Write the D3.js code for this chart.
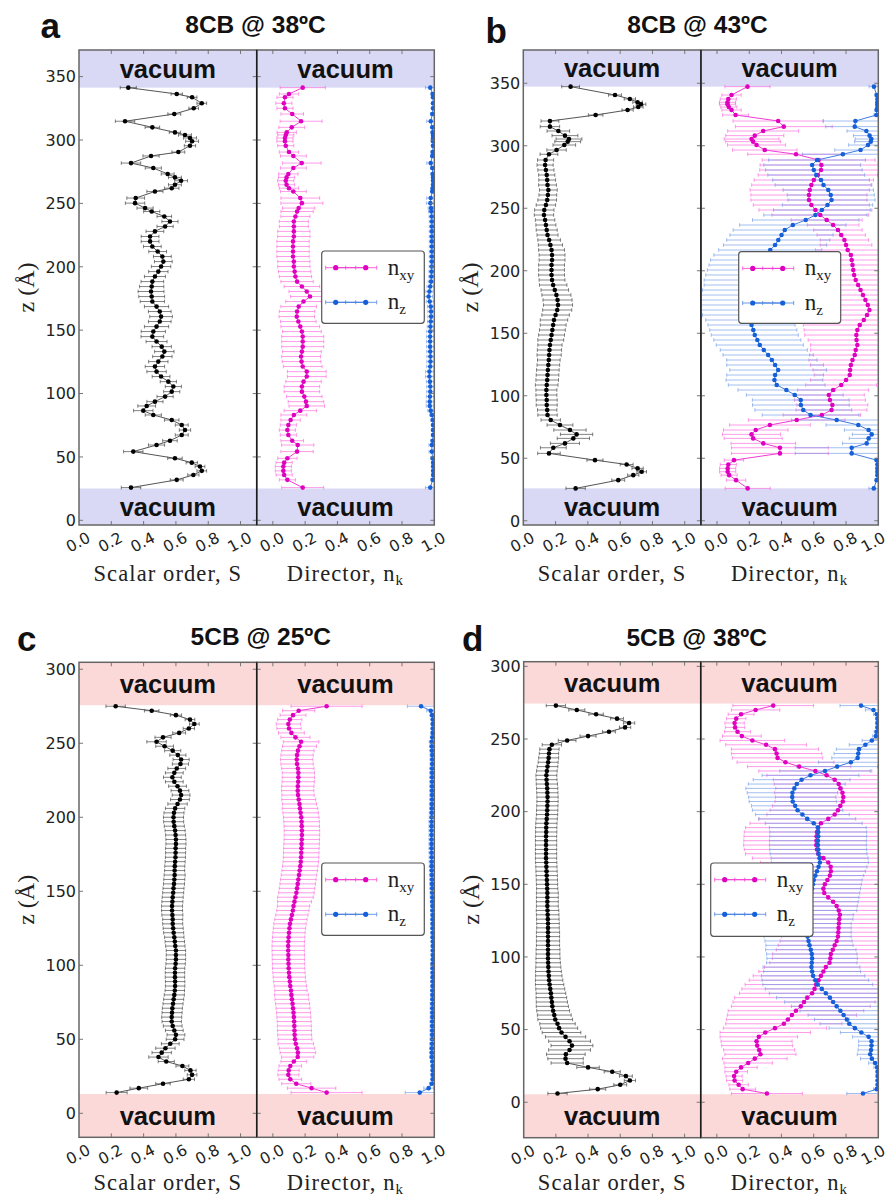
<!DOCTYPE html>
<html>
<head>
<meta charset="utf-8">
<script src="https://cdn.jsdelivr.net/npm/d3@7/dist/d3.min.js"></script>
<style>
  html, body { margin: 0; padding: 0; background: #fff; }
  svg { display: block; }
</style>
</head>
<body>
<svg id="fig" width="891" height="1198"></svg>
<script>
// ---------------------------------------------------------------------------
// Order-parameter profiles across liquid-crystal films (z in Å).
// Each panel: scalar order S, director components n_xy and n_z, with errors.
// ---------------------------------------------------------------------------

// ----- 8CB @ 38ºC -----
const zA = [
  341.3, 336.3, 333.7, 329, 325, 320.5, 314.8, 310, 306, 304,
  301.6, 299, 295.5, 290.5, 287.4, 281.8, 277.9, 273.2, 270.5, 267.9,
  264.7, 262, 259.4, 254.2, 250.2, 246.3, 243.6, 239.7, 235.7, 231.8,
  227.9, 223.9, 220, 216, 212, 208.1, 204.1, 200.2, 196.2, 192.3,
  188.3, 184.4, 180.5, 176.5, 172.6, 168.6, 164.7, 160.7, 156.8, 152.8,
  148.9, 144.9, 141, 137, 133.1, 129.2, 125.2, 121.3, 117.3, 113.4,
  109.4, 105.5, 101.5, 97.6, 93.6, 90.2, 86.5, 83.1, 79.1, 75.2,
  71.2, 67.3, 62.8, 59.4, 54.2, 48.9, 45.5, 42.4, 39, 35.8,
  31.9, 25.8
];
const sA = [
  0.305, 0.605, 0.70, 0.76, 0.71, 0.59, 0.285, 0.454, 0.594, 0.656,
  0.687, 0.70, 0.687, 0.615, 0.446, 0.322, 0.46, 0.549, 0.594, 0.632,
  0.594, 0.574, 0.47, 0.351, 0.347, 0.409, 0.45, 0.528, 0.563, 0.533,
  0.47, 0.44, 0.44, 0.454, 0.487, 0.516, 0.522, 0.508, 0.491, 0.47,
  0.454, 0.45, 0.446, 0.45, 0.454, 0.48, 0.50, 0.508, 0.50, 0.48,
  0.46, 0.454, 0.48, 0.512, 0.528, 0.516, 0.491, 0.47, 0.48, 0.508,
  0.553, 0.584, 0.574, 0.533, 0.47, 0.419, 0.398, 0.46, 0.574, 0.636,
  0.656, 0.636, 0.563, 0.48, 0.336, 0.594, 0.698, 0.749, 0.76, 0.708,
  0.605, 0.322
];
const sErrA = [
  0.05, 0.035, 0.03, 0.03, 0.03, 0.04, 0.06, 0.045, 0.035, 0.04,
  0.04, 0.04, 0.035, 0.04, 0.05, 0.06, 0.05, 0.04, 0.04, 0.04,
  0.04, 0.045, 0.05, 0.055, 0.06, 0.05, 0.05, 0.045, 0.05, 0.05,
  0.055, 0.055, 0.055, 0.055, 0.055, 0.055, 0.055, 0.06, 0.06, 0.065,
  0.07, 0.075, 0.08, 0.08, 0.075, 0.075, 0.07, 0.07, 0.07, 0.075,
  0.075, 0.07, 0.065, 0.06, 0.06, 0.06, 0.06, 0.06, 0.06, 0.055,
  0.05, 0.05, 0.05, 0.05, 0.05, 0.055, 0.06, 0.05, 0.045, 0.04,
  0.035, 0.04, 0.045, 0.05, 0.06, 0.045, 0.035, 0.03, 0.03, 0.035,
  0.04, 0.06
];
const nxyA = [
  0.185, 0.10, 0.075, 0.068, 0.075, 0.12, 0.175, 0.117, 0.086, 0.08,
  0.075, 0.075, 0.08, 0.10, 0.127, 0.179, 0.127, 0.096, 0.085, 0.08,
  0.085, 0.10, 0.127, 0.17, 0.18, 0.16, 0.15, 0.14, 0.13, 0.13,
  0.13, 0.13, 0.125, 0.125, 0.125, 0.125, 0.13, 0.13, 0.135, 0.14,
  0.15, 0.18, 0.21, 0.23, 0.19, 0.16, 0.15, 0.148, 0.158, 0.17,
  0.18, 0.185, 0.185, 0.185, 0.18, 0.175, 0.178, 0.185, 0.21, 0.21,
  0.19, 0.18, 0.18, 0.195, 0.205, 0.21, 0.17, 0.13, 0.11, 0.096,
  0.09, 0.096, 0.12, 0.154, 0.15, 0.09, 0.07, 0.065, 0.065, 0.07,
  0.09, 0.185
];
const nxyErrA = [
  0.14, 0.06, 0.05, 0.05, 0.05, 0.07, 0.13, 0.08, 0.06, 0.05,
  0.05, 0.05, 0.05, 0.06, 0.08, 0.12, 0.08, 0.06, 0.05, 0.05,
  0.05, 0.06, 0.08, 0.12, 0.13, 0.1, 0.1, 0.09, 0.09, 0.09,
  0.1, 0.1, 0.1, 0.1, 0.1, 0.1, 0.1, 0.1, 0.1, 0.1,
  0.1, 0.11, 0.11, 0.12, 0.11, 0.11, 0.11, 0.11, 0.11, 0.12,
  0.12, 0.13, 0.13, 0.13, 0.12, 0.12, 0.12, 0.12, 0.12, 0.12,
  0.11, 0.11, 0.11, 0.11, 0.11, 0.11, 0.1, 0.08, 0.06, 0.05,
  0.05, 0.05, 0.07, 0.1, 0.1, 0.06, 0.05, 0.05, 0.05, 0.05,
  0.05, 0.13
];
const nzA = [
  0.975, 0.99, 0.992, 0.992, 0.992, 0.988, 0.978, 0.988, 0.99, 0.992,
  0.992, 0.992, 0.992, 0.99, 0.988, 0.978, 0.988, 0.99, 0.992, 0.992,
  0.992, 0.99, 0.988, 0.978, 0.976, 0.98, 0.982, 0.984, 0.985, 0.985,
  0.985, 0.985, 0.985, 0.985, 0.985, 0.985, 0.985, 0.984, 0.983, 0.982,
  0.98, 0.975, 0.97, 0.965, 0.972, 0.978, 0.98, 0.98, 0.978, 0.976,
  0.975, 0.974, 0.974, 0.974, 0.975, 0.976, 0.976, 0.975, 0.97, 0.97,
  0.973, 0.975, 0.975, 0.973, 0.972, 0.972, 0.978, 0.985, 0.99, 0.992,
  0.992, 0.992, 0.99, 0.985, 0.985, 0.99, 0.993, 0.993, 0.993, 0.993,
  0.99, 0.975
];
const nzErrA = [
  0.03, 0.01, 0.008, 0.008, 0.008, 0.012, 0.025, 0.012, 0.01, 0.008,
  0.008, 0.008, 0.008, 0.01, 0.012, 0.025, 0.012, 0.01, 0.008, 0.008,
  0.008, 0.01, 0.012, 0.025, 0.025, 0.018, 0.018, 0.016, 0.016, 0.016,
  0.016, 0.016, 0.016, 0.016, 0.016, 0.016, 0.016, 0.016, 0.016, 0.016,
  0.018, 0.02, 0.022, 0.024, 0.022, 0.02, 0.02, 0.02, 0.02, 0.02,
  0.022, 0.022, 0.022, 0.022, 0.022, 0.022, 0.022, 0.022, 0.024, 0.024,
  0.022, 0.022, 0.022, 0.022, 0.022, 0.022, 0.018, 0.012, 0.01, 0.008,
  0.008, 0.008, 0.012, 0.018, 0.018, 0.01, 0.008, 0.008, 0.008, 0.008,
  0.01, 0.03
];

// ----- 8CB @ 43ºC -----
const zB = [
  347.3, 340.6, 337.4, 334.8, 333.2, 331, 328.6, 324.6, 319.8, 315.3,
  311.8, 308.1, 305.4, 303.3, 300.6, 296.6, 293.2, 288.6, 284.6, 280.6,
  276.6, 272.6, 268.6, 264.6, 260.6, 256.6, 252.6, 248.6, 244.6, 240.6,
  236.6, 232.6, 228.6, 224.6, 220.6, 216.6, 212.6, 208.6, 204.6, 200.6,
  196.6, 192.6, 188.6, 184.6, 180.6, 176.6, 172.6, 168.6, 164.6, 160.6,
  156.6, 152.6, 148.6, 144.6, 140.6, 136.6, 132.6, 128.6, 124.6, 120.6,
  116.6, 112.6, 108.6, 104.6, 100.6, 96.6, 92.6, 88.6, 84.6, 80.6,
  76.6, 72.6, 69.1, 65.9, 61.9, 58.4, 53.9, 48.5, 45, 41.9,
  39.2, 36.5, 32.5, 25.9
];
const sB = [
  0.293, 0.568, 0.66, 0.708, 0.729, 0.712, 0.646, 0.448, 0.165, 0.165,
  0.217, 0.258, 0.283, 0.275, 0.254, 0.206, 0.159, 0.138, 0.135, 0.14,
  0.145, 0.148, 0.15, 0.155, 0.152, 0.148, 0.14, 0.13, 0.128, 0.135,
  0.14, 0.145, 0.15, 0.16, 0.168, 0.175, 0.178, 0.178, 0.175, 0.175,
  0.175, 0.178, 0.185, 0.195, 0.205, 0.212, 0.215, 0.21, 0.2, 0.19,
  0.185, 0.18, 0.175, 0.17, 0.165, 0.162, 0.16, 0.158, 0.155, 0.152,
  0.15, 0.148, 0.145, 0.143, 0.143, 0.145, 0.145, 0.148, 0.15, 0.17,
  0.227, 0.289, 0.33, 0.31, 0.258, 0.186, 0.159, 0.444, 0.64, 0.708,
  0.733, 0.681, 0.588, 0.324
];
const sErrB = [
  0.055, 0.04, 0.035, 0.03, 0.03, 0.03, 0.035, 0.045, 0.055, 0.06,
  0.07, 0.08, 0.08, 0.08, 0.07, 0.06, 0.055, 0.05, 0.05, 0.05,
  0.05, 0.052, 0.055, 0.055, 0.055, 0.058, 0.06, 0.06, 0.06, 0.06,
  0.062, 0.065, 0.065, 0.07, 0.075, 0.08, 0.08, 0.08, 0.08, 0.08,
  0.08, 0.08, 0.085, 0.085, 0.09, 0.09, 0.09, 0.09, 0.085, 0.085,
  0.08, 0.08, 0.08, 0.08, 0.075, 0.075, 0.075, 0.07, 0.07, 0.07,
  0.07, 0.07, 0.07, 0.065, 0.065, 0.065, 0.065, 0.06, 0.06, 0.06,
  0.08, 0.1, 0.1, 0.1, 0.09, 0.08, 0.07, 0.05, 0.04, 0.035,
  0.03, 0.035, 0.04, 0.06
];
const nxyB = [
  0.189, 0.09, 0.07, 0.065, 0.065, 0.073, 0.09, 0.115, 0.379, 0.414,
  0.286, 0.234, 0.214, 0.224, 0.245, 0.296, 0.49, 0.63, 0.647, 0.645,
  0.625, 0.60, 0.585, 0.575, 0.57, 0.57, 0.585, 0.61, 0.64, 0.68,
  0.72, 0.75, 0.77, 0.79, 0.80, 0.81, 0.83, 0.835, 0.84, 0.845,
  0.85, 0.86, 0.875, 0.89, 0.905, 0.92, 0.935, 0.945, 0.93, 0.91,
  0.885, 0.87, 0.864, 0.865, 0.87, 0.86, 0.854, 0.84, 0.83, 0.825,
  0.823, 0.80, 0.77, 0.72, 0.693, 0.70, 0.715, 0.71, 0.65, 0.494,
  0.328, 0.24, 0.214, 0.224, 0.287, 0.39, 0.39, 0.105, 0.07, 0.066,
  0.066, 0.075, 0.118, 0.19
];
const nxyErrB = [
  0.14, 0.06, 0.05, 0.05, 0.05, 0.05, 0.06, 0.08, 0.28, 0.3,
  0.22, 0.18, 0.17, 0.17, 0.18, 0.2, 0.3, 0.35, 0.38, 0.38,
  0.37, 0.37, 0.37, 0.37, 0.36, 0.36, 0.36, 0.35, 0.3, 0.22,
  0.16, 0.15, 0.15, 0.15, 0.16, 0.2, 0.28, 0.33, 0.36, 0.38,
  0.38, 0.38, 0.38, 0.38, 0.38, 0.38, 0.38, 0.38, 0.36, 0.35,
  0.35, 0.33, 0.32, 0.3, 0.29, 0.28, 0.28, 0.27, 0.25, 0.23,
  0.22, 0.22, 0.22, 0.22, 0.22, 0.22, 0.22, 0.22, 0.24, 0.3,
  0.25, 0.2, 0.18, 0.18, 0.2, 0.3, 0.3, 0.06, 0.05, 0.05,
  0.05, 0.05, 0.06, 0.14
];
const nzB = [
  0.973, 0.99, 0.995, 0.995, 0.995, 0.995, 0.99, 0.988, 0.858, 0.854,
  0.926, 0.946, 0.957, 0.953, 0.936, 0.89, 0.78, 0.62, 0.59, 0.60,
  0.615, 0.645, 0.66, 0.69, 0.705, 0.71, 0.685, 0.65, 0.61, 0.55,
  0.47, 0.42, 0.40, 0.38, 0.36, 0.33, 0.30, 0.28, 0.27, 0.26,
  0.25, 0.24, 0.22, 0.21, 0.19, 0.18, 0.17, 0.17, 0.19, 0.20,
  0.214, 0.225, 0.234, 0.25, 0.265, 0.29, 0.317, 0.34, 0.36, 0.379,
  0.36, 0.356, 0.37, 0.43, 0.482, 0.519, 0.52, 0.535, 0.58, 0.742,
  0.876, 0.94, 0.959, 0.94, 0.928, 0.835, 0.835, 0.99, 0.995, 0.995,
  0.995, 0.995, 0.99, 0.972
];
const nzErrB = [
  0.03, 0.01, 0.01, 0.01, 0.01, 0.01, 0.01, 0.015, 0.2, 0.18,
  0.12, 0.1, 0.1, 0.1, 0.12, 0.16, 0.25, 0.3, 0.3, 0.3,
  0.3, 0.3, 0.3, 0.28, 0.27, 0.27, 0.28, 0.3, 0.32, 0.33,
  0.33, 0.32, 0.32, 0.32, 0.32, 0.32, 0.32, 0.32, 0.32, 0.32,
  0.32, 0.32, 0.3, 0.3, 0.3, 0.3, 0.3, 0.3, 0.28, 0.27,
  0.27, 0.27, 0.27, 0.27, 0.27, 0.27, 0.28, 0.28, 0.3, 0.3,
  0.3, 0.3, 0.3, 0.3, 0.3, 0.3, 0.3, 0.3, 0.3, 0.28,
  0.2, 0.15, 0.12, 0.12, 0.15, 0.35, 0.35, 0.01, 0.01, 0.01,
  0.01, 0.01, 0.01, 0.03
];

// ----- 5CB @ 25ºC -----
const zC = [
  275, 272, 269, 266, 263, 260, 257, 254, 251, 248,
  245, 242, 239, 236, 233, 230, 227, 224, 221, 218,
  215, 212, 209, 206, 203, 200, 197, 194, 191, 188,
  185, 182, 179, 176, 173, 170, 167, 164, 161, 158,
  155, 152, 149, 146, 143, 140, 137, 134, 131, 128,
  125, 122, 119, 116, 113, 110, 107, 104, 101, 98,
  95, 92, 89, 86, 83, 80, 77, 74, 71, 68,
  65, 62, 59, 56, 53, 50, 47, 44, 41, 38,
  35, 32, 29, 26, 23, 20, 17, 14
];
const sC = [
  0.227, 0.45, 0.60, 0.687, 0.714, 0.68, 0.62, 0.52, 0.48, 0.53,
  0.58, 0.612, 0.632, 0.628, 0.605, 0.59, 0.578, 0.59, 0.61, 0.625,
  0.632, 0.625, 0.61, 0.595, 0.588, 0.585, 0.586, 0.59, 0.595, 0.598,
  0.6, 0.6, 0.598, 0.598, 0.597, 0.595, 0.593, 0.592, 0.592, 0.59,
  0.588, 0.585, 0.583, 0.58, 0.578, 0.576, 0.576, 0.578, 0.58, 0.58,
  0.583, 0.586, 0.59, 0.593, 0.596, 0.6, 0.6, 0.6, 0.598, 0.595,
  0.594, 0.594, 0.595, 0.595, 0.593, 0.59, 0.586, 0.582, 0.578, 0.576,
  0.574, 0.574, 0.58, 0.59, 0.6, 0.595, 0.565, 0.535, 0.512, 0.492,
  0.54, 0.64, 0.69, 0.70, 0.68, 0.52, 0.37, 0.233
];
const sErrC = [
  0.06, 0.045, 0.035, 0.03, 0.03, 0.035, 0.04, 0.05, 0.06, 0.055,
  0.05, 0.05, 0.05, 0.05, 0.055, 0.055, 0.055, 0.055, 0.055, 0.055,
  0.055, 0.058, 0.06, 0.06, 0.062, 0.062, 0.062, 0.062, 0.062, 0.062,
  0.062, 0.062, 0.062, 0.062, 0.062, 0.062, 0.062, 0.062, 0.065, 0.065,
  0.065, 0.065, 0.065, 0.065, 0.065, 0.065, 0.065, 0.065, 0.062, 0.062,
  0.062, 0.062, 0.06, 0.06, 0.06, 0.06, 0.06, 0.06, 0.06, 0.06,
  0.06, 0.06, 0.06, 0.06, 0.06, 0.062, 0.062, 0.062, 0.062, 0.062,
  0.062, 0.06, 0.058, 0.055, 0.055, 0.055, 0.055, 0.06, 0.06, 0.06,
  0.05, 0.04, 0.035, 0.03, 0.035, 0.045, 0.055, 0.065
];
const nxyC = [
  0.333, 0.16, 0.125, 0.105, 0.096, 0.1, 0.115, 0.14, 0.175, 0.165,
  0.155, 0.15, 0.148, 0.15, 0.155, 0.158, 0.158, 0.157, 0.155, 0.154,
  0.156, 0.16, 0.165, 0.168, 0.172, 0.176, 0.178, 0.179, 0.18, 0.18,
  0.179, 0.178, 0.177, 0.176, 0.175, 0.173, 0.17, 0.166, 0.162, 0.158,
  0.154, 0.15, 0.146, 0.14, 0.134, 0.128, 0.124, 0.118, 0.112, 0.106,
  0.103, 0.1, 0.098, 0.096, 0.095, 0.095, 0.096, 0.096, 0.097, 0.098,
  0.1, 0.102, 0.105, 0.108, 0.112, 0.115, 0.118, 0.122, 0.125, 0.128,
  0.13, 0.132, 0.133, 0.134, 0.135, 0.137, 0.142, 0.15, 0.155, 0.154,
  0.13, 0.108, 0.098, 0.096, 0.108, 0.145, 0.24, 0.333
];
const nxyErrC = [
  0.22, 0.1, 0.08, 0.075, 0.075, 0.075, 0.08, 0.09, 0.11, 0.105,
  0.1, 0.1, 0.1, 0.1, 0.1, 0.1, 0.1, 0.1, 0.1, 0.1,
  0.1, 0.105, 0.105, 0.11, 0.11, 0.11, 0.11, 0.11, 0.11, 0.11,
  0.11, 0.11, 0.11, 0.11, 0.11, 0.11, 0.11, 0.11, 0.11, 0.11,
  0.11, 0.11, 0.11, 0.11, 0.105, 0.1, 0.1, 0.1, 0.1, 0.1,
  0.1, 0.1, 0.1, 0.1, 0.1, 0.1, 0.1, 0.1, 0.1, 0.1,
  0.1, 0.1, 0.1, 0.1, 0.1, 0.105, 0.105, 0.105, 0.105, 0.105,
  0.105, 0.105, 0.105, 0.105, 0.105, 0.105, 0.11, 0.11, 0.11, 0.1,
  0.08, 0.07, 0.065, 0.065, 0.07, 0.09, 0.15, 0.22
];
const nzC = [
  0.918, 0.978, 0.986, 0.99, 0.99, 0.99, 0.99, 0.988, 0.984, 0.985,
  0.986, 0.987, 0.987, 0.987, 0.986, 0.986, 0.986, 0.986, 0.986, 0.986,
  0.986, 0.986, 0.985, 0.985, 0.984, 0.984, 0.983, 0.983, 0.983, 0.983,
  0.983, 0.983, 0.983, 0.983, 0.984, 0.984, 0.984, 0.985, 0.985, 0.986,
  0.986, 0.987, 0.987, 0.988, 0.988, 0.989, 0.989, 0.99, 0.99, 0.99,
  0.99, 0.99, 0.99, 0.991, 0.991, 0.991, 0.991, 0.991, 0.99, 0.99,
  0.99, 0.99, 0.99, 0.99, 0.989, 0.989, 0.989, 0.988, 0.988, 0.988,
  0.988, 0.987, 0.987, 0.987, 0.987, 0.987, 0.986, 0.985, 0.985, 0.985,
  0.988, 0.99, 0.99, 0.99, 0.99, 0.985, 0.965, 0.91
];
const nzErrC = [
  0.085, 0.025, 0.012, 0.008, 0.008, 0.008, 0.01, 0.012, 0.015, 0.015,
  0.014, 0.013, 0.013, 0.013, 0.014, 0.014, 0.014, 0.014, 0.014, 0.014,
  0.014, 0.014, 0.015, 0.015, 0.015, 0.015, 0.016, 0.016, 0.016, 0.016,
  0.016, 0.016, 0.016, 0.016, 0.016, 0.016, 0.015, 0.015, 0.015, 0.014,
  0.014, 0.014, 0.013, 0.013, 0.013, 0.012, 0.012, 0.012, 0.012, 0.012,
  0.012, 0.012, 0.011, 0.011, 0.011, 0.011, 0.011, 0.011, 0.012, 0.012,
  0.012, 0.012, 0.012, 0.012, 0.012, 0.013, 0.013, 0.013, 0.013, 0.013,
  0.013, 0.013, 0.013, 0.013, 0.013, 0.013, 0.014, 0.014, 0.014, 0.014,
  0.012, 0.01, 0.01, 0.01, 0.01, 0.015, 0.03, 0.09
];

// ----- 5CB @ 38ºC -----
const zD = [
  273, 270, 267, 264, 261, 258, 255, 252, 249, 246,
  243, 240, 237, 234, 231, 228, 225, 222, 219, 216,
  213, 210, 207, 204, 201, 198, 195, 192, 189, 186,
  183, 180, 177, 174, 171, 168, 165, 162, 159, 156,
  153, 150, 147, 144, 141, 138, 135, 132, 129, 126,
  123, 120, 117, 114, 111, 108, 105, 102, 99, 96,
  93, 90, 87, 84, 81, 78, 75, 72, 69, 66,
  63, 60, 57, 54, 51, 48, 45, 42, 39, 36,
  33, 30, 27, 24, 21, 18, 15, 12, 9, 6
];
const sD = [
  0.2, 0.33, 0.45, 0.58, 0.655, 0.63, 0.53, 0.40, 0.27, 0.175,
  0.16, 0.157, 0.155, 0.152, 0.148, 0.144, 0.141, 0.142, 0.144, 0.146,
  0.147, 0.148, 0.148, 0.147, 0.146, 0.145, 0.143, 0.141, 0.14, 0.14,
  0.139, 0.139, 0.139, 0.139, 0.139, 0.139, 0.14, 0.141, 0.142, 0.143,
  0.144, 0.145, 0.146, 0.147, 0.147, 0.147, 0.147, 0.148, 0.149, 0.15,
  0.151, 0.151, 0.151, 0.151, 0.151, 0.151, 0.151, 0.151, 0.151, 0.152,
  0.153, 0.154, 0.156, 0.158, 0.161, 0.165, 0.169, 0.172, 0.175, 0.178,
  0.183, 0.19, 0.196, 0.21, 0.22, 0.235, 0.26, 0.285, 0.3, 0.285,
  0.262, 0.26, 0.27, 0.40, 0.55, 0.635, 0.66, 0.6, 0.46, 0.21
];
const sErrD = [
  0.06, 0.05, 0.045, 0.04, 0.035, 0.035, 0.04, 0.05, 0.055, 0.06,
  0.06, 0.06, 0.062, 0.062, 0.064, 0.064, 0.065, 0.065, 0.066, 0.066,
  0.066, 0.066, 0.066, 0.066, 0.066, 0.066, 0.066, 0.066, 0.066, 0.066,
  0.066, 0.066, 0.066, 0.066, 0.066, 0.066, 0.066, 0.066, 0.066, 0.066,
  0.066, 0.066, 0.066, 0.068, 0.068, 0.068, 0.068, 0.07, 0.07, 0.07,
  0.07, 0.07, 0.072, 0.072, 0.072, 0.072, 0.074, 0.074, 0.075, 0.076,
  0.078, 0.08, 0.082, 0.085, 0.088, 0.09, 0.092, 0.095, 0.097, 0.1,
  0.102, 0.105, 0.108, 0.11, 0.115, 0.12, 0.125, 0.13, 0.13, 0.13,
  0.12, 0.11, 0.1, 0.07, 0.05, 0.04, 0.035, 0.04, 0.05, 0.06
];
const nxyD = [
  0.349, 0.24, 0.15, 0.12, 0.11, 0.113, 0.128, 0.155, 0.22, 0.305,
  0.36, 0.37, 0.376, 0.425, 0.51, 0.61, 0.68, 0.73, 0.755, 0.765,
  0.778, 0.783, 0.78, 0.765, 0.75, 0.73, 0.69, 0.645, 0.628, 0.62,
  0.618, 0.617, 0.616, 0.62, 0.628, 0.66, 0.69, 0.705, 0.706, 0.7,
  0.685, 0.669, 0.66, 0.665, 0.69, 0.72, 0.742, 0.755, 0.762, 0.758,
  0.756, 0.754, 0.752, 0.75, 0.742, 0.73, 0.718, 0.706, 0.703, 0.698,
  0.675, 0.66, 0.645, 0.63, 0.615, 0.605, 0.59, 0.56, 0.54, 0.52,
  0.49, 0.465, 0.44, 0.415, 0.36, 0.3, 0.26, 0.246, 0.25, 0.262,
  0.27, 0.235, 0.194, 0.15, 0.12, 0.107, 0.11, 0.135, 0.16, 0.31
];
const nxyErrD = [
  0.25, 0.15, 0.08, 0.06, 0.06, 0.06, 0.08, 0.12, 0.2, 0.25,
  0.27, 0.28, 0.28, 0.3, 0.32, 0.35, 0.37, 0.38, 0.4, 0.4,
  0.42, 0.42, 0.42, 0.42, 0.42, 0.42, 0.43, 0.44, 0.45, 0.45,
  0.45, 0.45, 0.45, 0.45, 0.45, 0.44, 0.42, 0.4, 0.4, 0.4,
  0.4, 0.4, 0.4, 0.4, 0.4, 0.38, 0.37, 0.36, 0.35, 0.35,
  0.35, 0.35, 0.35, 0.35, 0.35, 0.35, 0.35, 0.36, 0.36, 0.37,
  0.38, 0.4, 0.42, 0.43, 0.44, 0.45, 0.45, 0.45, 0.44, 0.43,
  0.42, 0.4, 0.38, 0.36, 0.32, 0.28, 0.24, 0.22, 0.22, 0.22,
  0.22, 0.2, 0.15, 0.1, 0.07, 0.05, 0.05, 0.06, 0.08, 0.22
];
const nzD = [
  0.893, 0.97, 0.99, 0.995, 0.995, 0.995, 0.99, 0.985, 0.96, 0.92,
  0.88, 0.876, 0.872, 0.83, 0.745, 0.67, 0.58, 0.525, 0.495, 0.48,
  0.468, 0.467, 0.47, 0.485, 0.5, 0.53, 0.56, 0.6, 0.625, 0.628,
  0.628, 0.626, 0.626, 0.628, 0.63, 0.636, 0.638, 0.63, 0.62, 0.61,
  0.6, 0.595, 0.59, 0.585, 0.58, 0.575, 0.57, 0.567, 0.565, 0.563,
  0.562, 0.562, 0.562, 0.562, 0.568, 0.574, 0.582, 0.588, 0.59, 0.588,
  0.586, 0.59, 0.596, 0.61, 0.625, 0.65, 0.675, 0.7, 0.72, 0.742,
  0.765, 0.785, 0.805, 0.82, 0.855, 0.895, 0.94, 0.958, 0.958, 0.955,
  0.95, 0.96, 0.98, 0.993, 0.996, 0.996, 0.996, 0.996, 0.99, 0.905
];
const nzErrD = [
  0.13, 0.05, 0.02, 0.01, 0.01, 0.01, 0.015, 0.02, 0.06, 0.1,
  0.14, 0.15, 0.16, 0.2, 0.25, 0.28, 0.3, 0.3, 0.3, 0.3,
  0.28, 0.27, 0.27, 0.27, 0.28, 0.29, 0.3, 0.3, 0.3, 0.3,
  0.3, 0.3, 0.3, 0.3, 0.3, 0.3, 0.3, 0.3, 0.3, 0.3,
  0.3, 0.3, 0.3, 0.3, 0.3, 0.3, 0.3, 0.3, 0.28, 0.28,
  0.27, 0.27, 0.27, 0.27, 0.27, 0.27, 0.28, 0.28, 0.28, 0.28,
  0.3, 0.3, 0.32, 0.33, 0.34, 0.35, 0.35, 0.33, 0.3, 0.28,
  0.25, 0.22, 0.2, 0.18, 0.16, 0.13, 0.1, 0.08, 0.08, 0.08,
  0.08, 0.07, 0.04, 0.02, 0.01, 0.01, 0.01, 0.01, 0.02, 0.1
];

// Axis ticks
const zTicks8CB = [0, 50, 100, 150, 200, 250, 300, 350];
const zTicks5CB = [0, 50, 100, 150, 200, 250, 300];
const xTicks = [0, 0.2, 0.4, 0.6, 0.8, 1.0];

// ---------------------------------------------------------------------------
// Layout (pixel geometry of each panel) and styling
// ---------------------------------------------------------------------------
const FIG_W = 891;
const panels = [
  { letter: 'a', title: '8CB @ 38ºC',
    series: { z: zA, s: sA, sErr: sErrA, nxy: nxyA, nxyErr: nxyErrA, nz: nzA, nzErr: nzErrA },
    zTicks: zTicks8CB, zDomain: [-3.7, 371], vacuum: [25.1, 341.3], band: '#d9d9f6',
    box: { l: 79, m: 256.7, r: 434.3, t: 50, b: 525 }, labelGap: 56,
    legend: { x: 321.7, y: 251, w: 102.6, h: 72.3 },
    titleAt: [255.5, 33.3], letterAt: [40.5, 37.5] },
  { letter: 'b', title: '8CB @ 43ºC',
    series: { z: zB, s: sB, sErr: sErrB, nxy: nxyB, nxyErr: nxyErrB, nz: nzB, nzErr: nzErrB },
    zTicks: zTicks8CB, zDomain: [-3.4, 376.6], vacuum: [25.9, 347.3], band: '#d9d9f6',
    box: { l: 523.3, m: 700.9, r: 878.3, t: 50, b: 525 }, labelGap: 56,
    legend: { x: 738.7, y: 251.7, w: 102, h: 71.6 },
    titleAt: [697.5, 33.3], letterAt: [485.5, 43] },
  { letter: 'c', title: '5CB @ 25ºC',
    series: { z: zC, s: sC, sErr: sErrC, nxy: nxyC, nxyErr: nxyErrC, nz: nzC, nzErr: nzErrC },
    zTicks: zTicks5CB, zDomain: [-16.2, 304.7], vacuum: [13.1, 275.7], band: '#fcd9d9',
    box: { l: 79, m: 256.7, r: 434.3, t: 662.3, b: 1137.3 }, labelGap: 52.5,
    legend: { x: 321.7, y: 863, w: 102.6, h: 72.3 },
    titleAt: [260.8, 645], letterAt: [17, 650.7] },
  { letter: 'd', title: '5CB @ 38ºC',
    series: { z: zD, s: sD, sErr: sErrD, nxy: nxyD, nxyErr: nxyErrD, nz: nzD, nzErr: nzErrD },
    zTicks: zTicks5CB, zDomain: [-24.4, 303.2], vacuum: [5.5, 274.4], band: '#fcd9d9',
    box: { l: 523.7, m: 700.7, r: 878.3, t: 661.7, b: 1137.7 }, labelGap: 52.5,
    legend: { x: 710.7, y: 863, w: 102.3, h: 73.3 },
    titleAt: [696.7, 646], letterAt: [462, 650.7] }
];

const styles = {
  s:   { bar: '#3a3a3a', barOpacity: 0.7, line: '#555555', dot: '#000000' },
  nxy: { bar: '#ff66dd', barOpacity: 0.72, line: '#f03cd2', dot: '#e000c0' },
  nz:  { bar: '#6f9be8', barOpacity: 0.72, line: '#3d7ce0', dot: '#1560d8' }
};

const SANS = "'Liberation Sans', Arial, sans-serif";
const TICKFONT = "'DejaVu Sans', Verdana, sans-serif";
const SERIF = "'Liberation Serif', 'Times New Roman', serif";

const svg = d3.select('#fig');
const defs = svg.append('defs');
let clipCount = 0;

function makeClip(x, y, w, h) {
  const id = 'clip' + (clipCount++);
  defs.append('clipPath').attr('id', id)
    .append('rect').attr('x', x).attr('y', y).attr('width', w).attr('height', h);
  return 'url(#' + id + ')';
}

function rowsOf(z, v, e) {
  const out = [];
  for (let i = 0; i < z.length; i++) {
    if (v[i] == null || e[i] == null) continue;
    out.push({ z: z[i], v: v[i], e: e[i] });
  }
  return out;
}

function drawBars(g, x, y, rows, st) {
  const cap = 1.8;
  g.append('g')
    .attr('fill', 'none')
    .attr('stroke', st.bar)
    .attr('stroke-opacity', st.barOpacity)
    .attr('stroke-width', 0.9)
    .selectAll('path')
    .data(rows)
    .join('path')
    .attr('d', d => {
      const yy = y(d.z), xa = x(d.v - d.e), xb = x(d.v + d.e);
      return `M${xa},${yy}H${xb}M${xa},${yy - cap}V${yy + cap}M${xb},${yy - cap}V${yy + cap}`;
    });
}

function drawLine(g, x, y, rows, st) {
  g.append('path')
    .datum(rows)
    .attr('fill', 'none')
    .attr('stroke', st.line)
    .attr('stroke-width', 1)
    .attr('d', d3.line().x(d => x(d.v)).y(d => y(d.z)));
  g.append('g')
    .attr('fill', st.dot)
    .selectAll('circle')
    .data(rows)
    .join('circle')
    .attr('cx', d => x(d.v))
    .attr('cy', d => y(d.z))
    .attr('r', 2.3);
}

function drawPanel(P) {
  const B = P.box;
  const zScale = d3.scaleLinear().domain(P.zDomain).range([B.b, B.t]);
  const xS = d3.scaleLinear().domain([0, 1.1]).range([B.l, B.m]);
  const xN = d3.scaleLinear().domain([-0.1, 1.0]).range([B.m, B.r]);
  const subplots = [
    { x0: B.l, x1: B.m, scale: xS },
    { x0: B.m, x1: B.r, scale: xN }
  ];
  const root = svg.append('g');

  // vacuum bands
  subplots.forEach(sp => {
    const yTopBand = zScale(P.vacuum[1]);
    const yBotBand = zScale(P.vacuum[0]);
    root.append('rect').attr('x', sp.x0).attr('y', B.t)
      .attr('width', sp.x1 - sp.x0).attr('height', yTopBand - B.t).attr('fill', P.band);
    root.append('rect').attr('x', sp.x0).attr('y', yBotBand)
      .attr('width', sp.x1 - sp.x0).attr('height', B.b - yBotBand).attr('fill', P.band);
  });

  // data
  const D = P.series;
  const sRows = rowsOf(D.z, D.s, D.sErr);
  const xyRows = rowsOf(D.z, D.nxy, D.nxyErr);
  const zRows = rowsOf(D.z, D.nz, D.nzErr);

  const gL = root.append('g').attr('clip-path', makeClip(B.l, B.t, B.m - B.l, B.b - B.t));
  drawBars(gL, xS, zScale, sRows, styles.s);
  drawLine(gL, xS, zScale, sRows, styles.s);

  const gR = root.append('g').attr('clip-path', makeClip(B.m, B.t, B.r - B.m, B.b - B.t));
  drawBars(gR, xN, zScale, xyRows, styles.nxy);
  drawBars(gR, xN, zScale, zRows, styles.nz);
  drawLine(gR, xN, zScale, xyRows, styles.nxy);
  drawLine(gR, xN, zScale, zRows, styles.nz);

  // "vacuum" labels
  subplots.forEach(sp => {
    const cx = (sp.x0 + sp.x1) / 2;
    const yTopC = (B.t + zScale(P.vacuum[1])) / 2;
    const yBotC = (zScale(P.vacuum[0]) + B.b) / 2;
    [yTopC, yBotC].forEach(cy => {
      root.append('text').attr('x', cx).attr('y', cy + 9)
        .attr('text-anchor', 'middle')
        .attr('font-family', SANS).attr('font-weight', 'bold')
        .attr('font-size', 25.5).attr('fill', '#111')
        .text('vacuum');
    });
  });

  // ticks (inward, on all sides)
  const tk = root.append('g').attr('stroke', '#777').attr('stroke-width', 1);
  subplots.forEach(sp => {
    xTicks.forEach(t => {
      const xx = sp.scale(t);
      if (xx <= sp.x0 + 0.5 || xx >= sp.x1 - 0.5) return;
      tk.append('line').attr('x1', xx).attr('x2', xx).attr('y1', B.t).attr('y2', B.t + 4);
      tk.append('line').attr('x1', xx).attr('x2', xx).attr('y1', B.b).attr('y2', B.b - 4);
    });
    P.zTicks.forEach(t => {
      const yy = zScale(t);
      tk.append('line').attr('x1', sp.x0).attr('x2', sp.x0 + 4).attr('y1', yy).attr('y2', yy);
      tk.append('line').attr('x1', sp.x1).attr('x2', sp.x1 - 4).attr('y1', yy).attr('y2', yy);
    });
  });

  // frames
  subplots.forEach(sp => {
    root.append('rect').attr('x', sp.x0).attr('y', B.t)
      .attr('width', sp.x1 - sp.x0).attr('height', B.b - B.t)
      .attr('fill', 'none').attr('stroke', '#666').attr('stroke-width', 1.5);
  });
  root.append('line').attr('x1', B.m).attr('x2', B.m).attr('y1', B.t).attr('y2', B.b)
    .attr('stroke', '#1a1a1a').attr('stroke-width', 1.3);

  // z tick labels
  P.zTicks.forEach(t => {
    root.append('text').attr('x', B.l - 3).attr('y', zScale(t))
      .attr('dy', '0.36em').attr('text-anchor', 'end')
      .attr('font-family', TICKFONT).attr('font-size', 16).attr('fill', '#222')
      .text(t);
  });

  // x tick labels (rotated); the last one is kept inside the figure edge
  const fmt = d3.format('.1f');
  subplots.forEach(sp => {
    xTicks.forEach(t => {
      const xx = Math.min(sp.scale(t) - 1, FIG_W - 18), yy = B.b + 17;
      root.append('text')
        .attr('transform', `translate(${xx},${yy}) rotate(-28)`)
        .attr('text-anchor', 'middle').attr('dy', '0.36em')
        .attr('font-family', TICKFONT).attr('font-size', 15.5).attr('fill', '#222')
        .text(fmt(t));
    });
  });

  // axis labels
  const labY = B.b + P.labelGap;
  root.append('text').attr('x', (B.l + B.m) / 2).attr('y', labY)
    .attr('text-anchor', 'middle').attr('font-family', SERIF).attr('font-size', 22.5)
    .attr('letter-spacing', 1.1).attr('fill', '#222')
    .text('Scalar order, S');
  const dl = root.append('text').attr('x', (B.m + B.r) / 2).attr('y', labY)
    .attr('text-anchor', 'middle').attr('font-family', SERIF).attr('font-size', 22.5)
    .attr('letter-spacing', 1.1).attr('fill', '#222');
  dl.append('tspan').text('Director, n');
  dl.append('tspan').attr('font-size', 15).attr('dy', 4).text('k');

  root.append('text')
    .attr('transform', `translate(${B.l - 45},${(B.t + B.b) / 2}) rotate(-90)`)
    .attr('text-anchor', 'middle').attr('font-family', SERIF).attr('font-size', 24)
    .attr('fill', '#222')
    .text('z (Å)');

  // legend
  const L = P.legend;
  const lg = root.append('g');
  lg.append('rect').attr('x', L.x).attr('y', L.y).attr('width', L.w).attr('height', L.h)
    .attr('rx', 3).attr('fill', '#fff').attr('stroke', '#555').attr('stroke-width', 1.2);
  [['xy', styles.nxy, 16.7], ['z', styles.nz, 51.3]].forEach(([sub, st, dy]) => {
    const yy = L.y + dy;
    lg.append('path')
      .attr('d', `M${L.x + 4},${yy}H${L.x + 55}` +
        [4, 24, 34, 55].map(o => `M${L.x + o},${yy - 2}V${yy + 2}`).join(''))
      .attr('stroke', st.bar).attr('stroke-width', 1).attr('fill', 'none');
    lg.append('path').attr('d', `M${L.x + 14},${yy}H${L.x + 44}`)
      .attr('stroke', st.line).attr('stroke-width', 1);
    [14, 44].forEach(o => lg.append('circle').attr('cx', L.x + o).attr('cy', yy)
      .attr('r', 2.6).attr('fill', st.dot));
    const tx = lg.append('text').attr('x', L.x + 66).attr('y', yy + 7)
      .attr('font-family', SERIF).attr('font-size', 23).attr('fill', '#222');
    tx.append('tspan').text('n');
    tx.append('tspan').attr('font-size', 15).attr('dy', 5).text(sub);
  });

  // panel title and letter
  root.append('text').attr('x', P.titleAt[0]).attr('y', P.titleAt[1])
    .attr('text-anchor', 'middle').attr('font-family', SANS).attr('font-weight', 'bold')
    .attr('font-size', 24.5).attr('fill', '#111')
    .text(P.title);
  root.append('text').attr('x', P.letterAt[0]).attr('y', P.letterAt[1])
    .attr('font-family', SANS).attr('font-weight', 'bold')
    .attr('font-size', 35).attr('fill', '#111')
    .text(P.letter);
}

panels.forEach(drawPanel);
</script>
</body>
</html>
